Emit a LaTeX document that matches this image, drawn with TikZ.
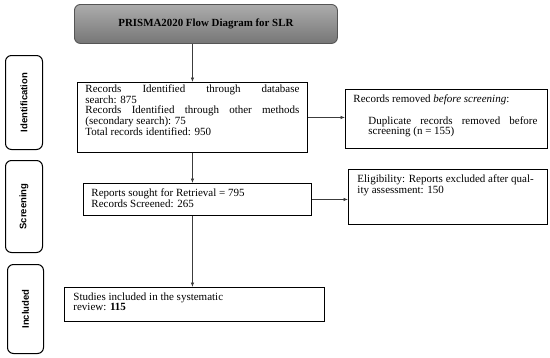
\documentclass[tikz,border=0pt]{standalone}
\usepackage{fontspec}
\setmainfont{Liberation Serif}
\newfontfamily\sidefam{Liberation Sans}
\usetikzlibrary{arrows.meta}
\definecolor{titletop}{RGB}{172,172,172}
\definecolor{titlebot}{RGB}{118,118,118}
\definecolor{titleedge}{RGB}{85,85,85}
\definecolor{arrowgray}{RGB}{60,60,60}
\newcommand{\bodyfont}{\fontsize{11}{10}\selectfont}
\newcommand{\sidefont}{\sidefam\bfseries\fontsize{9.5}{10}\selectfont}
\begin{document}
\begin{tikzpicture}[x=1pt,y=-1pt,
  box/.style={draw=black, line width=0.9pt, anchor=north west, inner sep=0pt, font=\bodyfont},
  side/.style={draw=black, line width=1pt, rounded corners=6pt, anchor=north west, inner sep=0pt},
  sidelabel/.style={rotate=90, font=\sidefont},
  arr/.style={draw=arrowgray, line width=0.7pt, -{Latex[length=4.5pt,width=3.5pt]}}]
\useasboundingbox (0,0) rectangle (550,357);
% title
\node[anchor=north west, minimum width=263pt, minimum height=39pt, rounded corners=6pt,
  draw=titleedge, line width=0.9pt, top color=titletop, bottom color=titlebot,
  font=\fontsize{10.9}{11}\selectfont\bfseries] (title) at (74,4) {PRISMA2020 Flow Diagram for SLR};
% side boxes
\node[side, minimum width=37pt, minimum height=94pt] (sid) at (5,55) {};
\node[sidelabel] (sidl) at (sid.center) {Identification};
\node[side, minimum width=37pt, minimum height=92pt] (ssc) at (5,160) {};
\node[sidelabel] (sscl) at (ssc.center) {Screening};
\node[side, minimum width=36pt, minimum height=89pt] (sin) at (7,264) {};
\node[sidelabel] (sinl) at (sin.center) {Included};
% main boxes
\node[box, inner xsep=8pt, inner ysep=2pt] (b1) at (77,82)
 {\parbox[t][66pt][t]{214pt}{\bodyfont
  Records Identified through database\linebreak search: 875\par
  Records Identified through other methods\linebreak (secondary search): 75\par
  Total records identified: 950}};
\node[box, inner xsep=8pt, inner ysep=5pt] (b2) at (83,183)
 {\parbox[t][22pt][t]{212pt}{\bodyfont\raggedright
  Reports sought for Retrieval = 795\\
  Records Screened: 265}};
\node[box, inner xsep=9pt, inner ysep=5.5pt] (b3) at (64,287)
 {\parbox[t][23pt][t]{242pt}{\bodyfont\raggedright
  Studies included in the systematic\\
  review: \textbf{115}}};
\node[box, inner xsep=8pt, inner ysep=5pt] (r1) at (345,89)
 {\parbox[t][49pt][t]{186pt}{\bodyfont
  Records removed \emph{before screening}:\par\vspace{11pt}
  \leftskip=15pt\rightskip=2pt
  Duplicate records removed before\linebreak screening (n = 155)}};
\node[box, inner xsep=9pt, inner ysep=5.5pt] (r2) at (348,169)
 {\parbox[t][44pt][t]{181pt}{\fontsize{11}{9.5}\selectfont\raggedright
  Eligibility: Reports excluded after qual-\\
  ity assessment: 150}};
% connectors
\draw[arr] (title.south -| b1.north) -- (b1.north);
\draw[arr] (b1.south) -- (b1.south |- b2.north);
\draw[arr] (b1.south |- b2.south) -- (b1.south |- b3.north);
\draw[arr] (b1.east) -- (r1.west |- b1.east);
\draw[arr] (b2.east) -- (r2.west |- b2.east);
\end{tikzpicture}
\end{document}
